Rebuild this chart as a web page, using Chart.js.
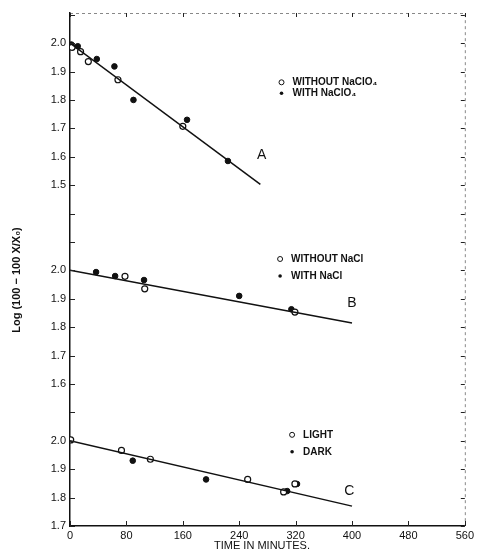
<!DOCTYPE html>
<html lang="en">
<head>
<meta charset="UTF-8">
<title>Log plot, three panels</title>
<style>
    body { margin: 0; background: #fff; }
    #wrap { width: 477px; height: 552px; position: relative; }
</style>
</head>
<body>
<div id="wrap"><canvas id="chart"></canvas></div>
<script src="https://cdn.jsdelivr.net/npm/chart.js"></script>
<script>
// time in minutes / log values
const xTicks = [0, 80, 160, 240, 320, 400, 480, 560];

// panel A: with / without NaClO4
const aOpenT = [3, 15, 26, 68, 160];
const aOpenV = [1.985, 1.970, 1.935, 1.871, 1.707];
const aFillT = [2, 11, 38, 63, 90, 166, 224];
const aFillV = [1.995, 1.989, 1.944, 1.918, 1.800, 1.730, 1.585];
const aFitT = [0, 270];
const aFitV = [2.0, 1.503];

// panel B: with / without NaCl
const bOpenT = [78, 106, 319];
const bOpenV = [1.979, 1.935, 1.853];
const bFillT = [37, 64, 105, 240, 314];
const bFillV = [1.994, 1.980, 1.966, 1.910, 1.863];
const bFitT = [0, 400];
const bFitV = [2.0, 1.815];

// panel C: light / dark
const cOpenT = [1, 73, 114, 252, 303, 319];
const cOpenV = [2.003, 1.966, 1.935, 1.864, 1.820, 1.848];
const cFillT = [89, 193, 308, 322];
const cFillV = [1.930, 1.864, 1.823, 1.848];
const cFitT = [0, 400];
const cFitV = [2.0, 1.770];

// the three panels share one axis; each gets shifted onto it
const shiftA = -0.3, shiftB = -1.1, shiftC = -1.7;

function pts(ts, vs, shift) {
    return ts.map((t, i) => ({ x: t, y: vs[i] + shift }));
}

function tickLabel(u) {
    const k = Math.round(u * 10);
    if (k >= 0 && k <= 3) return ((k + 17) / 10).toFixed(1);
    if (k >= 5 && k <= 9) return ((k + 11) / 10).toFixed(1);
    if (k >= 12 && k <= 17) return ((k + 3) / 10).toFixed(1);
    return '';
}

const openStyle = { pointStyle: 'circle', pointRadius: 3, pointBackgroundColor: '#fff', pointBorderColor: '#111', pointBorderWidth: 1.2, showLine: false };
const fillStyle = { pointStyle: 'circle', pointRadius: 2.8, pointBackgroundColor: '#111', pointBorderColor: '#111', pointBorderWidth: 1, showLine: false };
const fitStyle = { type: 'line', borderColor: '#111', borderWidth: 1.5, pointRadius: 0, fill: false };

const FONT = '"Liberation Sans", Arial, sans-serif';

const decor = {
    id: 'decor',
    afterDraw(chart) {
        const ctx = chart.ctx;
        const xs = chart.scales.x, ys = chart.scales.y;
        const a = chart.chartArea;
        ctx.save();
        // dotted top and right frame
        ctx.strokeStyle = '#888';
        ctx.lineWidth = 1;
        ctx.setLineDash([3, 3]);
        ctx.beginPath();
        ctx.moveTo(a.left, a.top + 0.5);
        ctx.lineTo(a.right + 0.5, a.top + 0.5);
        ctx.lineTo(a.right + 0.5, a.bottom);
        ctx.stroke();
        ctx.setLineDash([]);
        // inward ticks
        ctx.strokeStyle = '#222';
        ctx.beginPath();
        xTicks.forEach(t => {
            const px = Math.round(xs.getPixelForValue(t)) + 0.5;
            ctx.moveTo(px, a.bottom); ctx.lineTo(px, a.bottom - 5);
            ctx.moveTo(px, a.top); ctx.lineTo(px, a.top + 4);
        });
        for (let k = 0; k <= 18; k++) {
            const py = Math.round(ys.getPixelForValue(k / 10)) + 0.5;
            ctx.moveTo(a.left, py); ctx.lineTo(a.left + 5, py);
            ctx.moveTo(a.right, py); ctx.lineTo(a.right - 4, py);
        }
        ctx.stroke();

        // legends
        function legend(t, v, shift, gap, items) {
            const x0 = xs.getPixelForValue(t);
            let y = ys.getPixelForValue(v + shift);
            ctx.font = 'bold 10px ' + FONT;
            ctx.textBaseline = 'middle';
            ctx.textAlign = 'left';
            items.forEach(([open, label]) => {
                ctx.beginPath();
                ctx.arc(x0, y, open ? 2.5 : 1.8, 0, Math.PI * 2);
                if (open) { ctx.fillStyle = '#fff'; ctx.fill(); ctx.lineWidth = 1; ctx.strokeStyle = '#111'; ctx.stroke(); }
                else { ctx.fillStyle = '#111'; ctx.fill(); }
                ctx.fillStyle = '#111';
                ctx.fillText(label, x0 + 11, y);
                y += gap;
            });
        }
        legend(300, 1.862, shiftA, 11, [[true, 'WITHOUT NaClO\u2084'], [false, 'WITH NaClO\u2084']]);
        legend(298, 2.040, shiftB, 17, [[true, 'WITHOUT NaCl'], [false, 'WITH NaCl']]);
        legend(315, 2.021, shiftC, 17, [[true, 'LIGHT'], [false, 'DARK']]);

        // panel letters
        ctx.font = '14px ' + FONT;
        ctx.textAlign = 'center';
        ctx.fillText('A', xs.getPixelForValue(272), ys.getPixelForValue(1.604 + shiftA));
        ctx.fillText('B', xs.getPixelForValue(400), ys.getPixelForValue(1.883 + shiftB));
        ctx.fillText('C', xs.getPixelForValue(396), ys.getPixelForValue(1.822 + shiftC));

        // axis titles
        ctx.font = '11px ' + FONT;
        ctx.fillText('TIME IN MINUTES.', 262, 546);
        ctx.translate(17, 280);
        ctx.rotate(-Math.PI / 2);
        ctx.font = 'bold 11px ' + FONT;
        ctx.fillText('Log (100 \u2212 100 X/X\u2080)', 0, 0);
        ctx.restore();
    }
};

new Chart(document.getElementById('chart'), {
    type: 'scatter',
    data: {
        datasets: [
            { ...fitStyle, data: pts(aFitT, aFitV, shiftA) },
            { ...fitStyle, data: pts(bFitT, bFitV, shiftB) },
            { ...fitStyle, data: pts(cFitT, cFitV, shiftC) },
            { ...openStyle, data: pts(aOpenT, aOpenV, shiftA) },
            { ...fillStyle, data: pts(aFillT, aFillV, shiftA) },
            { ...openStyle, data: pts(bOpenT, bOpenV, shiftB) },
            { ...fillStyle, data: pts(bFillT, bFillV, shiftB) },
            { ...openStyle, data: pts(cOpenT, cOpenV, shiftC) },
            { ...fillStyle, data: pts(cFillT, cFillV, shiftC) }
        ]
    },
    options: {
        responsive: true,
        maintainAspectRatio: false,
        animation: false,
        layout: { padding: { left: 0, right: 10, top: 13, bottom: 0 } },
        plugins: { legend: { display: false }, tooltip: { enabled: false } },
        scales: {
            x: {
                type: 'linear', min: 0, max: 560,
                grid: { display: false, drawTicks: false },
                border: { display: true, color: '#111', width: 1.5 },
                ticks: { stepSize: 80, padding: 3, color: '#111', font: { family: FONT, size: 11 } },
                afterFit(s) { s.height = 26; }
            },
            y: {
                type: 'linear', min: 0, max: 1.806,
                grid: { display: false, drawTicks: false },
                border: { display: true, color: '#111', width: 1.5 },
                ticks: {
                    stepSize: 0.1, padding: 4, color: '#111', autoSkip: false,
                    font: { family: FONT, size: 11 },
                    callback: v => tickLabel(v)
                },
                afterFit(s) { s.width = 70; }
            }
        }
    },
    plugins: [decor]
});
</script>
</body>
</html>
